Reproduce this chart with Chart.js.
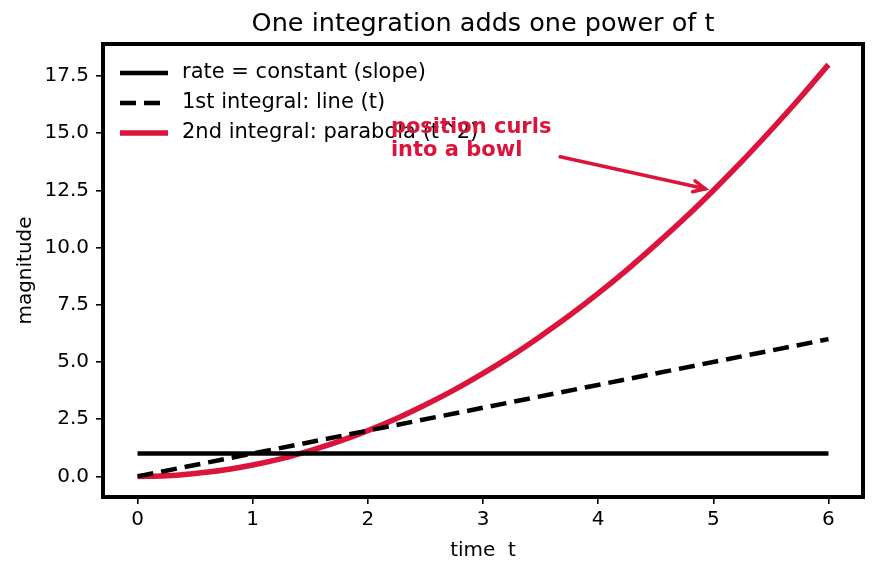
<!DOCTYPE html>
<html>
<head>
<meta charset="utf-8">
<script src="https://cdn.jsdelivr.net/npm/chart.js@4.4.1/dist/chart.umd.min.js"></script>
<style>
  html, body { margin: 0; padding: 0; background: #fff; }
  #wrap { width: 876px; height: 573px; }
</style>
</head>
<body>
<div id="wrap"><canvas id="grafiks" width="876" height="573"></canvas></div>
<script>
// dati nolasīti no attēla
const laiks = [0, 0.25, 0.5, 0.75, 1, 1.25, 1.5, 1.75, 2, 2.25, 2.5, 2.75, 3, 3.25, 3.5, 3.75, 4, 4.25, 4.5, 4.75, 5, 5.25, 5.5, 5.75, 6];
const parabola = [0, 0.03, 0.13, 0.28, 0.5, 0.78, 1.13, 1.53, 2, 2.53, 3.13, 3.78, 4.5, 5.28, 6.13, 7.03, 8, 9.03, 10.13, 11.28, 12.5, 13.78, 15.13, 16.53, 18];
const taisnesLaiks = [0, 6];    // t=0 un t=6
const taisne = [0, 6];
const konstante = [1, 1];
const xTicks = [0, 1, 2, 3, 4, 5, 6];
const yTicks = [0, 2.5, 5, 7.5, 10, 12.5, 15, 17.5];

const virsraksts = 'One integration adds one power of t';
const anotacija = { teksts: ['position curls', 'into a bowl'], x: 2.2, y: 15.23, no: [3.67, 13.97], uz: [4.93, 12.57] };

const sarkans = '#DC143C';
const fonts = '"DejaVu Sans", sans-serif';

const pari = (xs, ys) => xs.map((x, i) => ({ x: x, y: ys[i] }));

// virsraksts, rāmis, leģenda un anotācija
const zimetajs = {
  id: 'zimetajs',
  afterDraw(chart) {
    const ctx = chart.ctx;
    const a = chart.chartArea;
    const xs = chart.scales.x, ys = chart.scales.y;
    ctx.save();

    // virsraksts centrēts virs zīmēšanas laukuma
    ctx.fillStyle = '#000';
    ctx.font = '25.5px ' + fonts;
    ctx.textAlign = 'center';
    ctx.textBaseline = 'middle';
    ctx.fillText(virsraksts, (a.left + a.right) / 2, 24);
    ctx.textAlign = 'left';

    ctx.strokeStyle = '#000';
    ctx.lineWidth = 4;
    ctx.strokeRect(a.left, a.top, a.right - a.left, a.bottom - a.top);

    // leģenda
    ctx.font = '21px ' + fonts;
    chart.data.datasets.forEach((ds, i) => {
      const y = 73 + i * 30;
      ctx.beginPath();
      ctx.strokeStyle = ds.borderColor;
      ctx.lineWidth = ds.borderWidth;
      ctx.setLineDash(ds.borderDash || []);
      ctx.moveTo(120, y);
      ctx.lineTo(168, y);
      ctx.stroke();
      ctx.setLineDash([]);
      ctx.fillStyle = '#000';
      ctx.fillText(ds.label, 182, y);
    });

    // anotācija
    ctx.fillStyle = sarkans;
    ctx.font = 'bold 21px ' + fonts;
    const tx = xs.getPixelForValue(anotacija.x);
    const ty = ys.getPixelForValue(anotacija.y);
    anotacija.teksts.forEach((t, i) => ctx.fillText(t, tx, ty + i * 23));

    const x0 = xs.getPixelForValue(anotacija.no[0]), y0 = ys.getPixelForValue(anotacija.no[1]);
    const x1 = xs.getPixelForValue(anotacija.uz[0]), y1 = ys.getPixelForValue(anotacija.uz[1]);
    ctx.strokeStyle = sarkans;
    ctx.lineWidth = 3.5;
    ctx.lineCap = 'round';
    ctx.beginPath();
    ctx.moveTo(x0, y0);
    ctx.lineTo(x1, y1);
    ctx.stroke();
    const lenkis = Math.atan2(y1 - y0, x1 - x0);
    ctx.beginPath();
    ctx.moveTo(x1 - 13 * Math.cos(lenkis - 0.45), y1 - 13 * Math.sin(lenkis - 0.45));
    ctx.lineTo(x1, y1);
    ctx.lineTo(x1 - 13 * Math.cos(lenkis + 0.45), y1 - 13 * Math.sin(lenkis + 0.45));
    ctx.stroke();
    ctx.restore();
  }
};

new Chart(document.getElementById('grafiks'), {
  type: 'line',
  data: {
    datasets: [
      {
        label: 'rate = constant (slope)',
        data: pari(taisnesLaiks, konstante),
        borderColor: '#000',
        borderWidth: 4.5,
        pointRadius: 0
      },
      {
        label: '1st integral: line (t)',
        data: pari(taisnesLaiks, taisne),
        borderColor: '#000',
        borderWidth: 4.5,
        borderDash: [16, 8],
        pointRadius: 0
      },
      {
        label: '2nd integral: parabola (t^2)',
        data: pari(laiks, parabola),
        borderColor: sarkans,
        borderWidth: 5.5,
        pointRadius: 0,
        cubicInterpolationMode: 'monotone'
      }
    ]
  },
  options: {
    responsive: false,
    animation: false,
    layout: { padding: { left: 0, right: 13, top: 44, bottom: 0 } },
    plugins: {
      legend: { display: false },
      tooltip: { enabled: false },
      title: { display: false }
    },
    scales: {
      x: {
        type: 'linear',
        min: -0.3,
        max: 6.3,
        afterBuildTicks: s => { s.ticks = xTicks.map(v => ({ value: v })); },
        afterFit: s => { s.height = 76; },
        ticks: { color: '#000', font: { family: fonts, size: 20 }, padding: 4, maxRotation: 0 },
        grid: { drawOnChartArea: false, color: '#000', lineWidth: 1.6, tickLength: 7 },
        border: { display: false },
        title: { display: true, text: 'time  t', color: '#000', font: { family: fonts, size: 20 }, padding: { top: 6, bottom: 10 } }
      },
      y: {
        min: -0.9,
        max: 18.9,
        afterBuildTicks: s => { s.ticks = yTicks.map(v => ({ value: v })); },
        afterFit: s => { s.width = 103; },
        ticks: { color: '#000', font: { family: fonts, size: 20 }, padding: 7, callback: v => v.toFixed(1) },
        grid: { drawOnChartArea: false, color: '#000', lineWidth: 1.6, tickLength: 7 },
        border: { display: false },
        title: { display: true, text: 'magnitude', color: '#000', font: { family: fonts, size: 20 }, padding: { top: 14, bottom: 0 } }
      }
    }
  },
  plugins: [zimetajs]
});
</script>
</body>
</html>
